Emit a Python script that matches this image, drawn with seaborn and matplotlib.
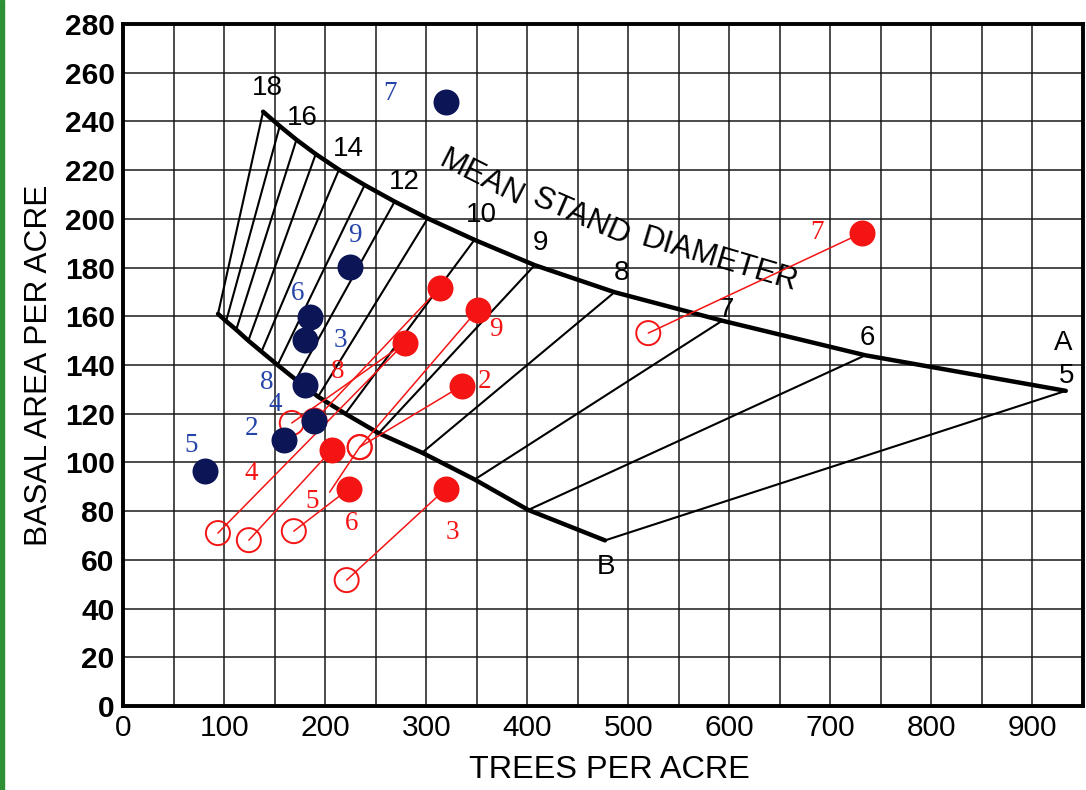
import matplotlib
matplotlib.use('Agg')
import matplotlib.pyplot as plt
import matplotlib.patches as mpatches
from matplotlib.ticker import MultipleLocator
import pandas as pd
import seaborn as sns

sns.set_theme(style='white')
plt.rcParams['font.family'] = ['Liberation Sans', 'DejaVu Sans']

# --- moldura do grafico de estoque ---
diametros = [18, 17, 16, 15, 14, 13, 12, 11, 10, 9, 8, 7, 6, 5]
linha_a_x = [138.6, 155.1, 171.6, 190.7, 213.7, 239.1, 268.8, 301.5, 347.8, 407.4, 486.4, 593.0, 734.6, 933.0]
linha_a_y = [244.0, 238.1, 232.5, 226.6, 220.2, 213.9, 207.1, 200.2, 191.4, 181.0, 169.9, 158.2, 144.0, 129.4]
linha_b_x = [94, 102, 112, 124, 137, 153, 171, 193, 220, 253, 296, 348, 401, 477]
linha_b_y = [161, 158, 154.5, 150, 145.5, 140, 134, 127, 120, 112, 104, 93, 80.5, 68]

rotulos_diam = ['18', '16', '14', '12', '10', '9', '8', '7', '6', '5', 'A', 'B']
rot_diam_x = [143.3, 177.9, 223.3, 278.7, 354.7, 413.0, 493.0, 596.8, 736.2, 933.8, 930.8, 478.3]
rot_diam_y = [253.7, 241.4, 228.7, 215.1, 201.6, 190.0, 177.8, 162.6, 151.1, 135.5, 149.0, 57.1]

titulo_palavras = ['MEAN', 'STAND', 'DIAMETER']
titulo_x = [354.4, 453.3, 590.0]
titulo_y = [216.6, 200.6, 183.1]
titulo_ang = [-27, -23.5, -16.5]

# --- pontos azuis ---
azul_rot = ['7', '9', '6', '3', '8', '4', '2', '5']
azul_x = [319.9, 224.3, 184.8, 179.8, 179.8, 188.7, 159.1, 81.0]
azul_y = [248.1, 180.3, 159.8, 150.2, 131.8, 117.1, 109.2, 96.6]
azul_rot_x = [263.8, 229.2, 172.9, 215.4, 142.3, 150.2, 127.5, 67.2]
azul_rot_y = [251.5, 193.3, 169.5, 150.2, 133.0, 123.6, 114.1, 107.1]

# --- pares vermelhos: circulo aberto (antes) -> ponto cheio (depois) ---
verm_rot = ['7', '3', '6', '4', '5', '2', '9', '8']
antes_x = [519.8, 221.3, 169.0, 93.9, 124.5, 234.2, 234.2, 189.5]
antes_y = [153.1, 51.7, 71.8, 71.0, 68.1, 106.3, 106.3, 117.2]
depois_x = [731.2, 319.2, 223.3, 278.7, 206.5, 335.0, 350.8, 313.2]
depois_y = [194.2, 89.1, 89.1, 149.0, 105.1, 131.4, 162.6, 171.6]
verm_rot_x = [686.8, 325.8, 226.0, 127.2, 187.5, 357.7, 369.3, 212.7]
verm_rot_y = [194.6, 71.1, 75.0, 95.5, 83.9, 133.1, 154.4, 137.2]

# tracos soltos que aparecem na figura
extra_x0 = [167.0, 204.5]
extra_y0 = [116.2, 87.8]
extra_x1 = [278.7, 234.2]
extra_y1 = [149.0, 106.3]

AZUL_PONTO = '#0c1656'
AZUL_TEXTO = '#2444a8'
VERMELHO = '#f41414'
SERIFA = ['Liberation Serif', 'DejaVu Serif']

fig = plt.figure(figsize=(10.86, 7.9), dpi=100)
ax = fig.add_axes([0.1133, 0.1063, 0.8839, 0.8633])
fig.patches.append(mpatches.Rectangle((0, 0), 4 / 1086, 1, transform=fig.transFigure,
                                      color='#2f8f35', zorder=0))

ax.set_xlim(0, 950)
ax.set_ylim(0, 280)
ax.xaxis.set_major_locator(MultipleLocator(100))
ax.xaxis.set_minor_locator(MultipleLocator(50))
ax.yaxis.set_major_locator(MultipleLocator(20))
ax.grid(True, which='both', color='#1a1a1a', linewidth=1.1)
ax.set_axisbelow(True)
ax.tick_params(which='both', length=0, pad=6, labelsize=21.5, colors='black')
for lab in ax.get_yticklabels():
    lab.set_fontweight('bold')
for sp in ax.spines.values():
    sp.set_color('black')
    sp.set_linewidth(2.8)

# linhas de diametro
for i in range(len(diametros)):
    ax.plot([linha_a_x[i], linha_b_x[i]], [linha_a_y[i], linha_b_y[i]],
            color='black', linewidth=1.5, zorder=2)

df_a = pd.DataFrame({'x': linha_a_x, 'y': linha_a_y})
df_b = pd.DataFrame({'x': linha_b_x, 'y': linha_b_y})
sns.lineplot(data=df_a, x='x', y='y', sort=False, estimator=None, color='black',
             linewidth=3.2, ax=ax, zorder=3)
sns.lineplot(data=df_b, x='x', y='y', sort=False, estimator=None, color='black',
             linewidth=3.2, ax=ax, zorder=3)

for t, x, y in zip(rotulos_diam, rot_diam_x, rot_diam_y):
    ax.text(x, y, t, fontsize=20, ha='center', va='center', color='black', zorder=4)
for t, x, y, a in zip(titulo_palavras, titulo_x, titulo_y, titulo_ang):
    ax.text(x, y, t, fontsize=22.5, ha='center', va='center', rotation=a,
            rotation_mode='anchor', color='black', zorder=4)

# pares vermelhos
for i in range(len(verm_rot)):
    ax.plot([antes_x[i], depois_x[i]], [antes_y[i], depois_y[i]],
            color=VERMELHO, linewidth=1.1, zorder=5)
for i in range(len(extra_x0)):
    ax.plot([extra_x0[i], extra_x1[i]], [extra_y0[i], extra_y1[i]],
            color=VERMELHO, linewidth=1.1, zorder=5)

abertos = pd.DataFrame({'x': antes_x + [extra_x0[0]], 'y': antes_y + [extra_y0[0]]})
cheios = pd.DataFrame({'x': depois_x, 'y': depois_y})
azuis = pd.DataFrame({'x': azul_x, 'y': azul_y})

sns.scatterplot(data=abertos, x='x', y='y', s=300, marker='o', facecolor='none',
                edgecolor=VERMELHO, linewidth=1.4, ax=ax, zorder=6)
sns.scatterplot(data=cheios, x='x', y='y', s=350, marker='o', color=VERMELHO,
                edgecolor=VERMELHO, linewidth=0, ax=ax, zorder=7)
sns.scatterplot(data=azuis, x='x', y='y', s=350, marker='o', color=AZUL_PONTO,
                edgecolor=AZUL_PONTO, linewidth=0, ax=ax, zorder=8)

for t, x, y in zip(azul_rot, azul_rot_x, azul_rot_y):
    ax.text(x, y, t, fontsize=19.5, ha='center', va='center', color=AZUL_TEXTO,
            family=SERIFA, zorder=9)
for t, x, y in zip(verm_rot, verm_rot_x, verm_rot_y):
    ax.text(x, y, t, fontsize=19.5, ha='center', va='center', color=VERMELHO,
            family=SERIFA, zorder=9)

ax.set_xlabel('TREES PER ACRE', fontsize=23.3, labelpad=10, color='black')
ax.xaxis.set_label_coords(0.507, -0.072)
ax.set_ylabel('BASAL AREA PER ACRE', fontsize=22.8, labelpad=8, color='black')

fig.savefig('out.png', dpi=100, facecolor='white')
